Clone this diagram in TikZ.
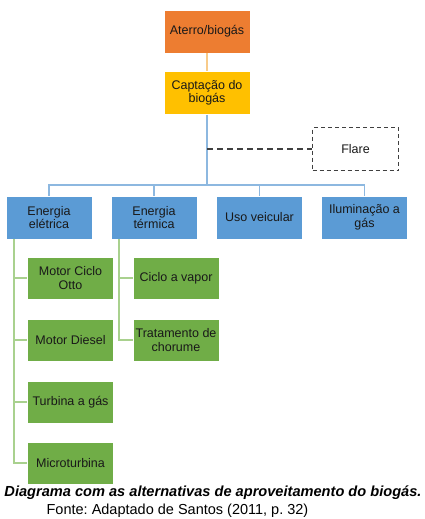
\documentclass[tikz,border=0pt]{standalone}
\usepackage{fontspec}
\setmainfont{Liberation Sans}
\frenchspacing
\definecolor{corange}{HTML}{ED7D31}
\definecolor{cgold}{HTML}{FFC000}
\definecolor{cblue}{HTML}{5B9BD5}
\definecolor{cgreen}{HTML}{70AD47}
\definecolor{lblue}{HTML}{8DB8E0}
\definecolor{lgreen}{HTML}{A9D18E}
\definecolor{lorange}{HTML}{F8CB8A}
\definecolor{dgray}{HTML}{404040}
\begin{document}
\begin{tikzpicture}[x=1pt,y=-1pt,
  box/.style={draw=white,line width=0.8pt,minimum width=86pt,minimum height=43pt,align=center,inner sep=1pt,
    font=\fontsize{12.5}{13.5}\selectfont,text=black!90},
  obox/.style={box,fill=corange},
  ybox/.style={box,fill=cgold},
  bbox/.style={box,fill=cblue},
  gbox/.style={box,fill=cgreen,minimum height=42pt},
  fbox/.style={box,draw=dgray,dash pattern=on 4pt off 3pt,line width=0.9pt,fill=white},
  bline/.style={draw=lblue,line width=1.1pt},
  gline/.style={draw=lgreen,line width=1.1pt},
  oline/.style={draw=lorange,line width=1.1pt},
  dline/.style={draw=dgray,dash pattern=on 6pt off 4pt,line width=1.2pt}]
\useasboundingbox (0,0) rectangle (425,519);
\node[obox] (at) at (207,31.5) {Aterro/biogás};
\node[ybox] (cap) at (207,93) {Captação do\\biogás};
\node[fbox] (fl) at (355.5,149) {Flare};
\node[bbox] (ee) at (49,217.5) {Energia\\elétrica};
\node[bbox] (et) at (154,217.5) {Energia\\térmica};
\node[bbox] (uv) at (259.5,217.5) {Uso veicular};
\node[bbox] (il) at (364.5,217.5) {Iluminação a\\gás};
\node[gbox] (mo) at (70.5,278) {Motor Ciclo\\Otto};
\node[gbox] (md) at (70.5,340) {Motor Diesel};
\node[gbox] (tg) at (70.5,402) {Turbina a gás};
\node[gbox] (mt) at (70.5,463) {Microturbina};
\node[gbox] (cv) at (176,278) {Ciclo a vapor};
\node[gbox] (tc) at (176,340) {Tratamento de\\chorume};
\coordinate (hub) at (207,185);
\coordinate (fj) at (207,149);
% connectors
\draw[oline] (at) -- (cap);
\draw[bline] (cap.south) -- (hub);
\draw[dline] (fj) -- (fl.west);
\draw[bline] (ee.north) |- (hub) -| (il.north);
\draw[bline] (et.north) -- (et.north |- hub);
\draw[bline] (uv.north) -- (uv.north |- hub);
\coordinate (ex) at (14,239);
\coordinate (tx) at (119,239);
\draw[gline] (ex) |- (mt.west);
\draw[gline] (ex |- mo.west) -- (mo.west);
\draw[gline] (ex |- md.west) -- (md.west);
\draw[gline] (ex |- tg.west) -- (tg.west);
\draw[gline] (tx) |- (tc.west);
\draw[gline] (tx |- cv.west) -- (cv.west);
\node[font=\fontsize{14.6}{16}\selectfont\bfseries\itshape] (cap1) at (213,493) {Diagrama com as alternativas de aproveitamento do biogás.};
\node[font=\fontsize{14.5}{16}\selectfont] (cap2) at (177.5,511) {Fonte: Adaptado de Santos (2011, p. 32)};
\end{tikzpicture}
\end{document}
